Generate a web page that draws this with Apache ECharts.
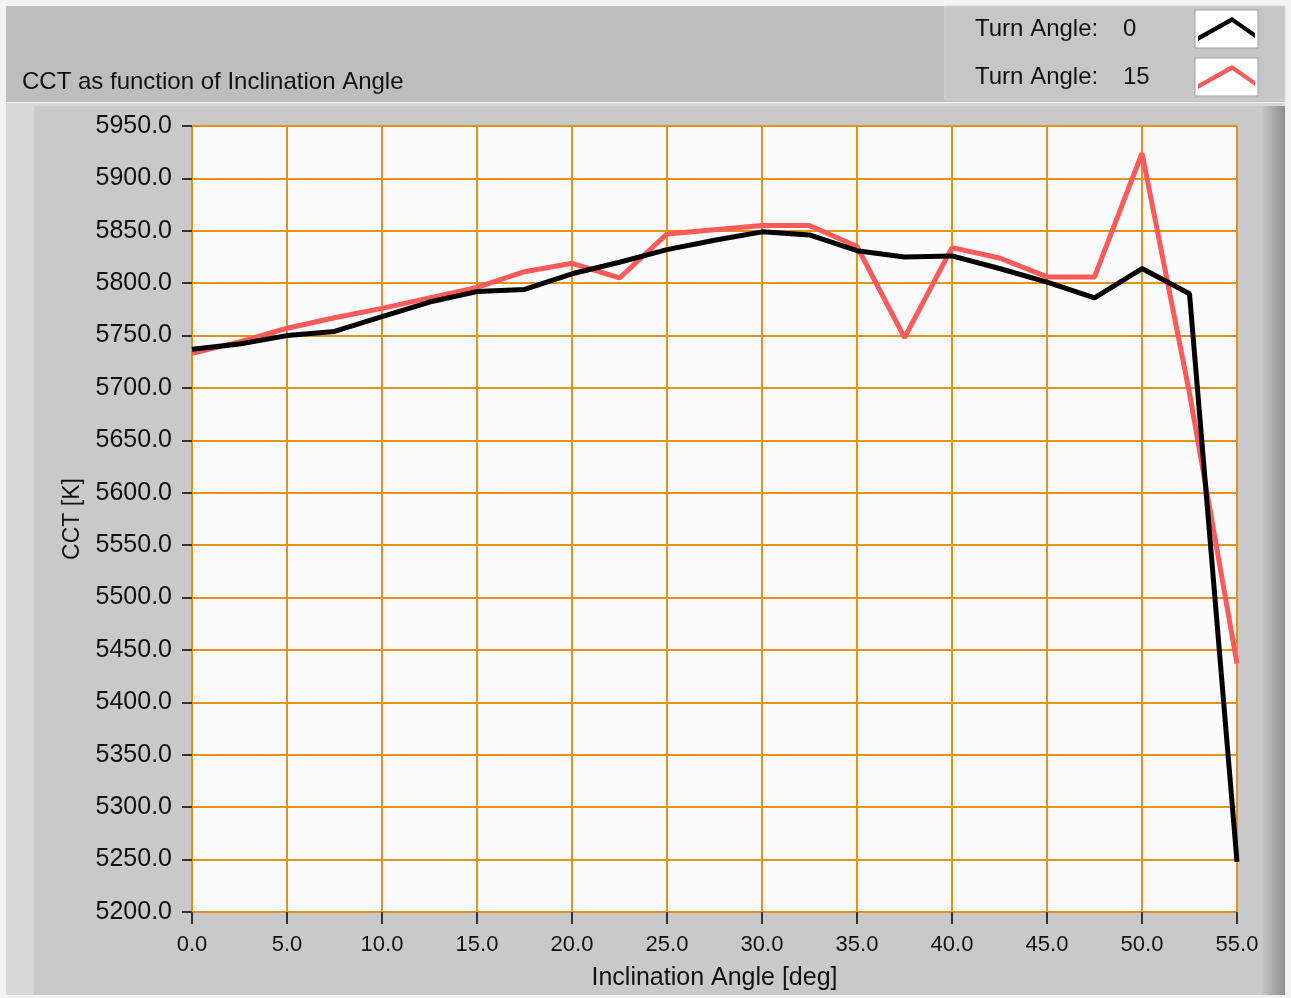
<!DOCTYPE html>
<html>
<head>
<meta charset="utf-8">
<script src="https://cdn.jsdelivr.net/npm/echarts@6/dist/echarts.min.js"></script>
<style>
html,body{margin:0;padding:0;background:#f2f2f2;overflow:hidden;}
#chart{width:1291px;height:998px;}
</style>
</head>
<body>
<div id="chart"></div>
<script>
// ---- data ----
const angles = [0, 2.5, 5, 7.5, 10, 12.5, 15, 17.5, 20, 22.5, 25, 27.5, 30, 32.5, 35, 37.5, 40, 42.5, 45, 47.5, 50, 52.5, 55];
const cctTurn0 = [5737, 5742, 5750, 5754, 5768, 5782, 5792, 5794, 5809, 5820, 5832, 5841, 5849, 5846, 5831, 5825, 5826, 5814, 5801, 5786, 5814, 5790, 5248];
const cctTurn15 = [5733, 5744, 5757, 5767, 5776, 5786, 5796, 5811, 5819, 5805, 5847, 5851, 5855, 5855, 5835, 5748, 5834, 5824, 5806, 5806, 5924, 5695, 5437];
const seriesNames = ['Turn Angle: 0', 'Turn Angle: 15'];
const legendValues = ['0', '15'];
const titleText = 'CCT as function of Inclination Angle';
const xName = 'Inclination Angle [deg]';
const yName = 'CCT [K]';

const pairs = (xs, ys) => xs.map((x, i) => [x, ys[i]]);
const chevron = 'path://M0,19 L34,0 L57,16 L57,21 L34,5 L0,24 Z';
const FONT = 'Liberation Sans';

const chart = echarts.init(document.getElementById('chart'), null, { width: 1291, height: 998 });
chart.setOption({
  animation: false,
  backgroundColor: '#f2f2f2',
  graphic: [
    { type: 'rect', shape: { x: 6, y: 6, width: 1279, height: 96 }, style: { fill: '#bdbdbd' }, z: -10 },
    { type: 'rect', shape: { x: 945, y: 6, width: 340, height: 94 }, style: { fill: '#c6c6c6', stroke: '#d8d8d8', lineWidth: 1 }, z: -9 },
    { type: 'rect', shape: { x: 1195, y: 10, width: 63, height: 38 }, style: { fill: '#ffffff', stroke: '#a0a0a0', lineWidth: 1 }, z: -8 },
    { type: 'rect', shape: { x: 1195, y: 58, width: 63, height: 38 }, style: { fill: '#ffffff', stroke: '#a0a0a0', lineWidth: 1 }, z: -8 },
    { type: 'rect', shape: { x: 6, y: 103, width: 1279, height: 892 }, style: { fill: '#c9c9c9' }, z: -10 },
    { type: 'rect', shape: { x: 6, y: 103, width: 28, height: 892 }, style: { fill: '#d7d7d7' }, z: -9 },
    { type: 'rect', shape: { x: 34, y: 103, width: 1251, height: 3 }, style: { fill: '#d6d6d6' }, z: -9 },
    { type: 'rect', shape: { x: 1262, y: 106, width: 23, height: 889 },
      style: { fill: new echarts.graphic.LinearGradient(0, 0, 1, 0, [{ offset: 0, color: '#c6c6c6' }, { offset: 1, color: '#8e8e8e' }]) }, z: -9 }
  ],
  title: {
    text: titleText,
    left: 17, top: 65,
    textStyle: { fontFamily: FONT, fontSize: 24, fontWeight: 'normal', color: '#111' }
  },
  legend: {
    orient: 'vertical',
    left: 975, top: 15,
    padding: 0,
    align: 'right',
    itemGap: 20,
    itemWidth: 57, itemHeight: 24,
    data: seriesNames.map(n => ({ name: n, icon: chevron })),
    formatter: name => {
      const i = seriesNames.indexOf(name);
      return '{a|Turn Angle:}{b|' + legendValues[i] + '}';
    },
    textStyle: {
      fontFamily: FONT, fontSize: 24, color: '#111', lineHeight: 28,
      rich: {
        a: { width: 148, align: 'left', fontFamily: FONT, fontSize: 24, color: '#111' },
        b: { width: 70, align: 'left', fontFamily: FONT, fontSize: 24, color: '#111' }
      }
    }
  },
  grid: {
    left: 192, top: 126, width: 1045, height: 786,
    show: true, backgroundColor: '#fbfbfb', borderColor: '#9c9c9c', borderWidth: 1
  },
  xAxis: {
    type: 'value', min: 0, max: 55, interval: 5,
    name: xName, nameLocation: 'middle', nameGap: 54,
    nameTextStyle: { fontFamily: FONT, fontSize: 25, color: '#111' },
    axisLine: { show: false },
    axisTick: { show: true, length: 12, lineStyle: { color: '#333', width: 2 } },
    axisLabel: { margin: 22, fontFamily: FONT, fontSize: 22, color: '#111', formatter: v => v.toFixed(1) },
    splitLine: { show: true, lineStyle: { color: '#e3921a', width: 2 } }
  },
  yAxis: {
    type: 'value', min: 5200, max: 5950, interval: 50,
    name: yName, nameLocation: 'middle', nameGap: 105, nameRotate: 90,
    nameTextStyle: { fontFamily: FONT, fontSize: 23, color: '#111' },
    axisLine: { show: false },
    axisTick: { show: true, length: 10, lineStyle: { color: '#333', width: 2 } },
    axisLabel: { margin: 20, fontFamily: FONT, fontSize: 25, color: '#111', formatter: v => v.toFixed(1) },
    splitLine: { show: true, lineStyle: { color: '#e3921a', width: 2 } }
  },
  series: [
    {
      name: seriesNames[0], type: 'line', data: pairs(angles, cctTurn0),
      showSymbol: false, z: 4,
      itemStyle: { color: '#000000' },
      lineStyle: { color: '#000000', width: 5 }
    },
    {
      name: seriesNames[1], type: 'line', data: pairs(angles, cctTurn15),
      showSymbol: false, z: 3,
      itemStyle: { color: '#ff5a5a' },
      lineStyle: { color: '#ff5a5a', width: 5 }
    }
  ]
});
</script>
</body>
</html>
